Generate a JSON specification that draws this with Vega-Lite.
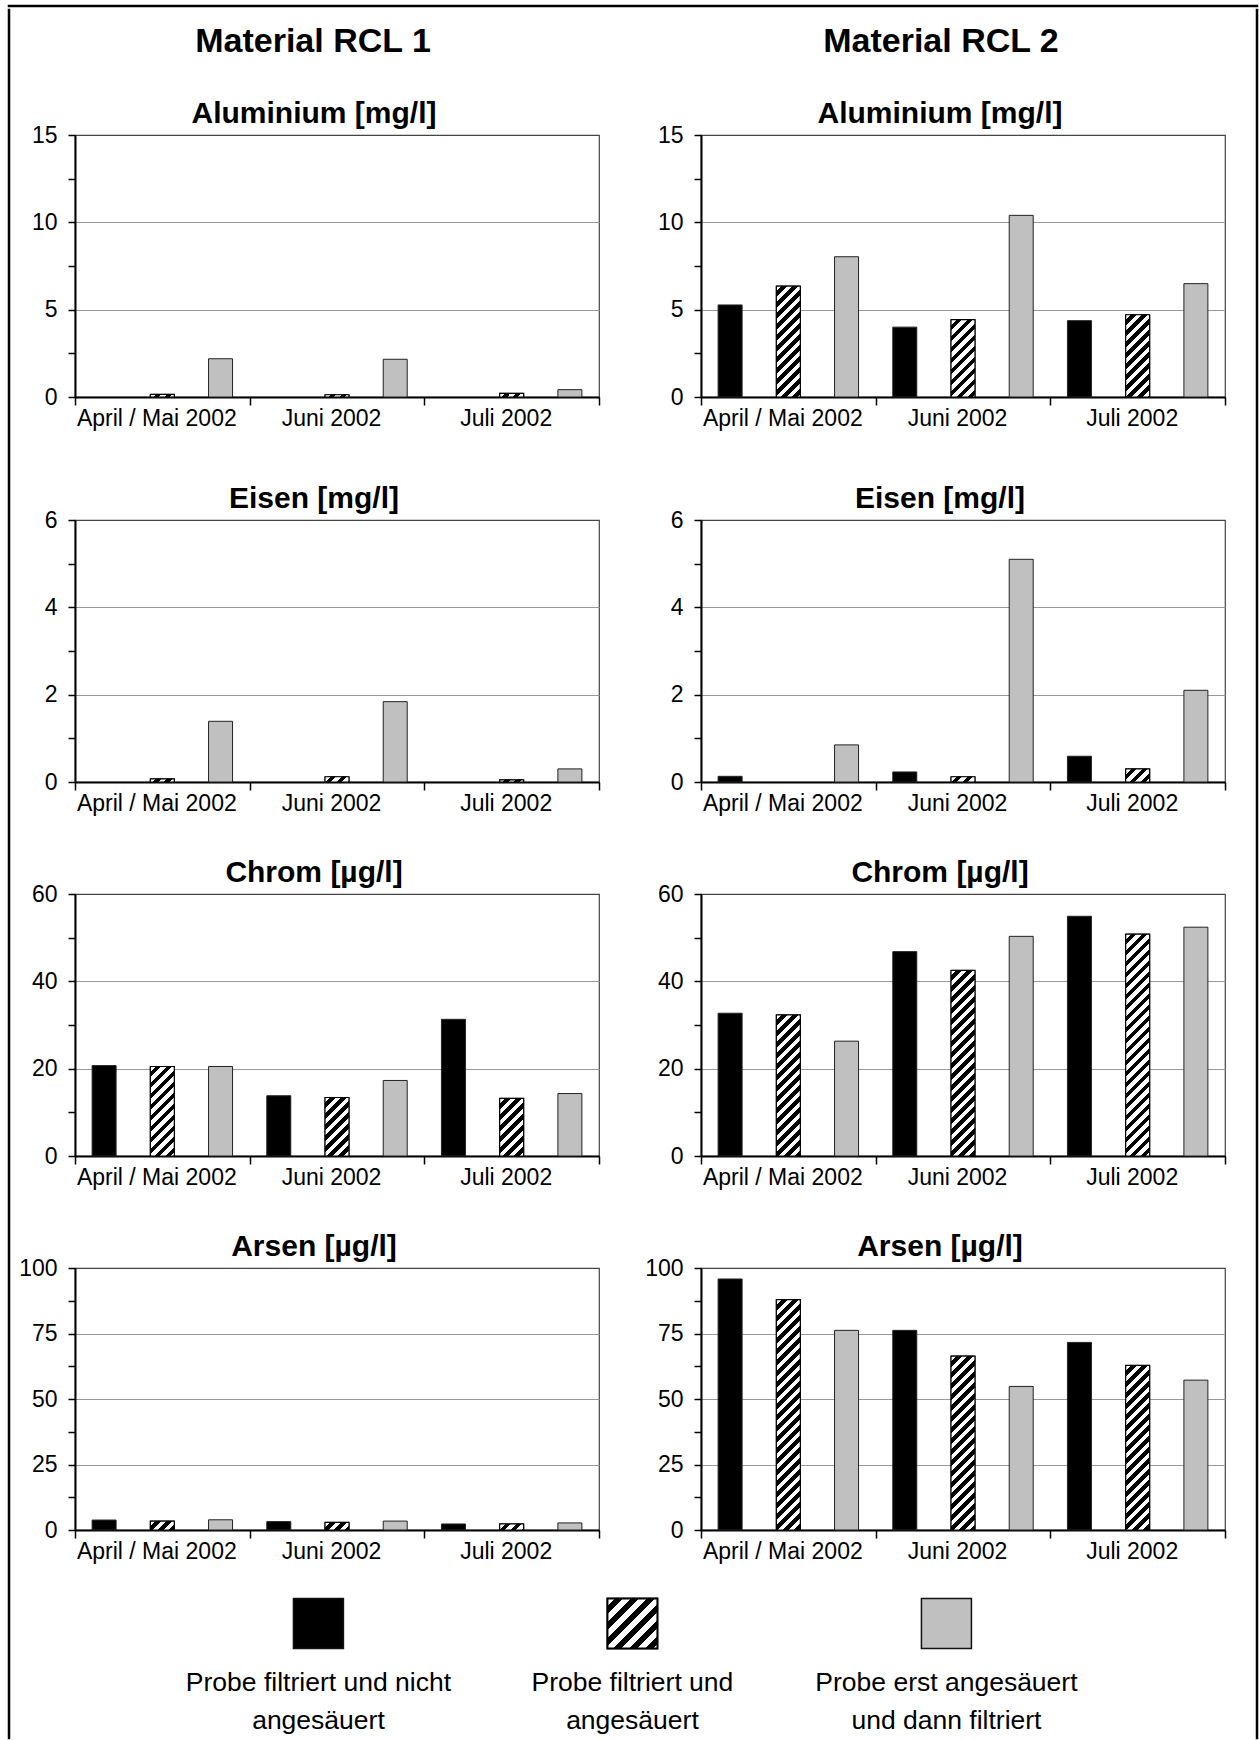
{
  "$schema": "https://vega.github.io/schema/vega-lite/v6.json",
  "background": "white",
  "padding": {"left": 7, "top": 4, "right": 0, "bottom": 0},
  "config": {
    "font": "Liberation Sans",
    "view": {"stroke": "#444444", "strokeWidth": 1.2},
    "axis": {
      "labelFont": "Liberation Sans",
      "labelFontSize": 23,
      "labelColor": "#000000",
      "domainColor": "#000000",
      "domainWidth": 2,
      "tickColor": "#000000",
      "tickWidth": 1.5,
      "gridColor": "#999999",
      "gridWidth": 1
    },
    "axisX": {"grid": false, "tickSize": 8, "labelPadding": 2, "labelAngle": 0, "tickBand": "extent", "labelOffset": -6},
    "axisY": {"tickSize": 7, "labelPadding": 11, "minExtent": 63, "maxExtent": 63},
    "title": {"font": "Liberation Sans", "fontSize": 30, "fontWeight": "bold", "color": "#000000", "anchor": "middle", "dx": -23, "offset": -5}
  },
  "params": [
    {
      "name": "schraffur",
      "value": [
        {"offset": 0, "color": "#fff"}, {"offset": 0.020833, "color": "#fff"}, {"offset": 0.020833, "color": "#000"}, {"offset": 0.041667, "color": "#000"},
        {"offset": 0.041667, "color": "#fff"}, {"offset": 0.0625, "color": "#fff"}, {"offset": 0.0625, "color": "#000"}, {"offset": 0.083333, "color": "#000"},
        {"offset": 0.083333, "color": "#fff"}, {"offset": 0.104167, "color": "#fff"}, {"offset": 0.104167, "color": "#000"}, {"offset": 0.125, "color": "#000"},
        {"offset": 0.125, "color": "#fff"}, {"offset": 0.145833, "color": "#fff"}, {"offset": 0.145833, "color": "#000"}, {"offset": 0.166667, "color": "#000"},
        {"offset": 0.166667, "color": "#fff"}, {"offset": 0.1875, "color": "#fff"}, {"offset": 0.1875, "color": "#000"}, {"offset": 0.208333, "color": "#000"},
        {"offset": 0.208333, "color": "#fff"}, {"offset": 0.229167, "color": "#fff"}, {"offset": 0.229167, "color": "#000"}, {"offset": 0.25, "color": "#000"},
        {"offset": 0.25, "color": "#fff"}, {"offset": 0.270833, "color": "#fff"}, {"offset": 0.270833, "color": "#000"}, {"offset": 0.291667, "color": "#000"},
        {"offset": 0.291667, "color": "#fff"}, {"offset": 0.3125, "color": "#fff"}, {"offset": 0.3125, "color": "#000"}, {"offset": 0.333333, "color": "#000"},
        {"offset": 0.333333, "color": "#fff"}, {"offset": 0.354167, "color": "#fff"}, {"offset": 0.354167, "color": "#000"}, {"offset": 0.375, "color": "#000"},
        {"offset": 0.375, "color": "#fff"}, {"offset": 0.395833, "color": "#fff"}, {"offset": 0.395833, "color": "#000"}, {"offset": 0.416667, "color": "#000"},
        {"offset": 0.416667, "color": "#fff"}, {"offset": 0.4375, "color": "#fff"}, {"offset": 0.4375, "color": "#000"}, {"offset": 0.458333, "color": "#000"},
        {"offset": 0.458333, "color": "#fff"}, {"offset": 0.479167, "color": "#fff"}, {"offset": 0.479167, "color": "#000"}, {"offset": 0.5, "color": "#000"},
        {"offset": 0.5, "color": "#fff"}, {"offset": 0.520833, "color": "#fff"}, {"offset": 0.520833, "color": "#000"}, {"offset": 0.541667, "color": "#000"},
        {"offset": 0.541667, "color": "#fff"}, {"offset": 0.5625, "color": "#fff"}, {"offset": 0.5625, "color": "#000"}, {"offset": 0.583333, "color": "#000"},
        {"offset": 0.583333, "color": "#fff"}, {"offset": 0.604167, "color": "#fff"}, {"offset": 0.604167, "color": "#000"}, {"offset": 0.625, "color": "#000"},
        {"offset": 0.625, "color": "#fff"}, {"offset": 0.645833, "color": "#fff"}, {"offset": 0.645833, "color": "#000"}, {"offset": 0.666667, "color": "#000"},
        {"offset": 0.666667, "color": "#fff"}, {"offset": 0.6875, "color": "#fff"}, {"offset": 0.6875, "color": "#000"}, {"offset": 0.708333, "color": "#000"},
        {"offset": 0.708333, "color": "#fff"}, {"offset": 0.729167, "color": "#fff"}, {"offset": 0.729167, "color": "#000"}, {"offset": 0.75, "color": "#000"},
        {"offset": 0.75, "color": "#fff"}, {"offset": 0.770833, "color": "#fff"}, {"offset": 0.770833, "color": "#000"}, {"offset": 0.791667, "color": "#000"},
        {"offset": 0.791667, "color": "#fff"}, {"offset": 0.8125, "color": "#fff"}, {"offset": 0.8125, "color": "#000"}, {"offset": 0.833333, "color": "#000"},
        {"offset": 0.833333, "color": "#fff"}, {"offset": 0.854167, "color": "#fff"}, {"offset": 0.854167, "color": "#000"}, {"offset": 0.875, "color": "#000"},
        {"offset": 0.875, "color": "#fff"}, {"offset": 0.895833, "color": "#fff"}, {"offset": 0.895833, "color": "#000"}, {"offset": 0.916667, "color": "#000"},
        {"offset": 0.916667, "color": "#fff"}, {"offset": 0.9375, "color": "#fff"}, {"offset": 0.9375, "color": "#000"}, {"offset": 0.958333, "color": "#000"},
        {"offset": 0.958333, "color": "#fff"}, {"offset": 0.979167, "color": "#fff"}, {"offset": 0.979167, "color": "#000"}, {"offset": 1, "color": "#000"}
      ]
    }
  ],
  "datasets": {
    "werte": [
      {"material": "RCL 1", "stoff": "Aluminium", "monat": "April / Mai 2002", "probe": "B", "wert": 0.15},
      {"material": "RCL 1", "stoff": "Aluminium", "monat": "Juni 2002", "probe": "B", "wert": 0.13},
      {"material": "RCL 1", "stoff": "Aluminium", "monat": "Juli 2002", "probe": "B", "wert": 0.21},
      {"material": "RCL 1", "stoff": "Aluminium", "monat": "April / Mai 2002", "probe": "C", "wert": 2.19},
      {"material": "RCL 1", "stoff": "Aluminium", "monat": "Juni 2002", "probe": "C", "wert": 2.16},
      {"material": "RCL 1", "stoff": "Aluminium", "monat": "Juli 2002", "probe": "C", "wert": 0.42},
      {"material": "RCL 2", "stoff": "Aluminium", "monat": "April / Mai 2002", "probe": "A", "wert": 5.27},
      {"material": "RCL 2", "stoff": "Aluminium", "monat": "Juni 2002", "probe": "A", "wert": 4.0},
      {"material": "RCL 2", "stoff": "Aluminium", "monat": "Juli 2002", "probe": "A", "wert": 4.37},
      {"material": "RCL 2", "stoff": "Aluminium", "monat": "April / Mai 2002", "probe": "B", "wert": 6.35},
      {"material": "RCL 2", "stoff": "Aluminium", "monat": "Juni 2002", "probe": "B", "wert": 4.43},
      {"material": "RCL 2", "stoff": "Aluminium", "monat": "Juli 2002", "probe": "B", "wert": 4.71},
      {"material": "RCL 2", "stoff": "Aluminium", "monat": "April / Mai 2002", "probe": "C", "wert": 8.03},
      {"material": "RCL 2", "stoff": "Aluminium", "monat": "Juni 2002", "probe": "C", "wert": 10.4},
      {"material": "RCL 2", "stoff": "Aluminium", "monat": "Juli 2002", "probe": "C", "wert": 6.49},
      {"material": "RCL 1", "stoff": "Eisen", "monat": "April / Mai 2002", "probe": "B", "wert": 0.07},
      {"material": "RCL 1", "stoff": "Eisen", "monat": "Juni 2002", "probe": "B", "wert": 0.12},
      {"material": "RCL 1", "stoff": "Eisen", "monat": "Juli 2002", "probe": "B", "wert": 0.05},
      {"material": "RCL 1", "stoff": "Eisen", "monat": "April / Mai 2002", "probe": "C", "wert": 1.39},
      {"material": "RCL 1", "stoff": "Eisen", "monat": "Juni 2002", "probe": "C", "wert": 1.84},
      {"material": "RCL 1", "stoff": "Eisen", "monat": "Juli 2002", "probe": "C", "wert": 0.3},
      {"material": "RCL 2", "stoff": "Eisen", "monat": "April / Mai 2002", "probe": "A", "wert": 0.13},
      {"material": "RCL 2", "stoff": "Eisen", "monat": "Juni 2002", "probe": "A", "wert": 0.23},
      {"material": "RCL 2", "stoff": "Eisen", "monat": "Juli 2002", "probe": "A", "wert": 0.59},
      {"material": "RCL 2", "stoff": "Eisen", "monat": "Juni 2002", "probe": "B", "wert": 0.12},
      {"material": "RCL 2", "stoff": "Eisen", "monat": "Juli 2002", "probe": "B", "wert": 0.3},
      {"material": "RCL 2", "stoff": "Eisen", "monat": "April / Mai 2002", "probe": "C", "wert": 0.85},
      {"material": "RCL 2", "stoff": "Eisen", "monat": "Juni 2002", "probe": "C", "wert": 5.1},
      {"material": "RCL 2", "stoff": "Eisen", "monat": "Juli 2002", "probe": "C", "wert": 2.1},
      {"material": "RCL 1", "stoff": "Chrom", "monat": "April / Mai 2002", "probe": "A", "wert": 20.7},
      {"material": "RCL 1", "stoff": "Chrom", "monat": "Juni 2002", "probe": "A", "wert": 13.8},
      {"material": "RCL 1", "stoff": "Chrom", "monat": "Juli 2002", "probe": "A", "wert": 31.3},
      {"material": "RCL 1", "stoff": "Chrom", "monat": "April / Mai 2002", "probe": "B", "wert": 20.5},
      {"material": "RCL 1", "stoff": "Chrom", "monat": "Juni 2002", "probe": "B", "wert": 13.4},
      {"material": "RCL 1", "stoff": "Chrom", "monat": "Juli 2002", "probe": "B", "wert": 13.2},
      {"material": "RCL 1", "stoff": "Chrom", "monat": "April / Mai 2002", "probe": "C", "wert": 20.5},
      {"material": "RCL 1", "stoff": "Chrom", "monat": "Juni 2002", "probe": "C", "wert": 17.3},
      {"material": "RCL 1", "stoff": "Chrom", "monat": "Juli 2002", "probe": "C", "wert": 14.3},
      {"material": "RCL 2", "stoff": "Chrom", "monat": "April / Mai 2002", "probe": "A", "wert": 32.7},
      {"material": "RCL 2", "stoff": "Chrom", "monat": "Juni 2002", "probe": "A", "wert": 46.8},
      {"material": "RCL 2", "stoff": "Chrom", "monat": "Juli 2002", "probe": "A", "wert": 54.9},
      {"material": "RCL 2", "stoff": "Chrom", "monat": "April / Mai 2002", "probe": "B", "wert": 32.3},
      {"material": "RCL 2", "stoff": "Chrom", "monat": "Juni 2002", "probe": "B", "wert": 42.5},
      {"material": "RCL 2", "stoff": "Chrom", "monat": "Juli 2002", "probe": "B", "wert": 50.8},
      {"material": "RCL 2", "stoff": "Chrom", "monat": "April / Mai 2002", "probe": "C", "wert": 26.3},
      {"material": "RCL 2", "stoff": "Chrom", "monat": "Juni 2002", "probe": "C", "wert": 50.3},
      {"material": "RCL 2", "stoff": "Chrom", "monat": "Juli 2002", "probe": "C", "wert": 52.4},
      {"material": "RCL 1", "stoff": "Arsen", "monat": "April / Mai 2002", "probe": "A", "wert": 3.8},
      {"material": "RCL 1", "stoff": "Arsen", "monat": "Juni 2002", "probe": "A", "wert": 3.2},
      {"material": "RCL 1", "stoff": "Arsen", "monat": "Juli 2002", "probe": "A", "wert": 2.3},
      {"material": "RCL 1", "stoff": "Arsen", "monat": "April / Mai 2002", "probe": "B", "wert": 3.4},
      {"material": "RCL 1", "stoff": "Arsen", "monat": "Juni 2002", "probe": "B", "wert": 2.9},
      {"material": "RCL 1", "stoff": "Arsen", "monat": "Juli 2002", "probe": "B", "wert": 2.3},
      {"material": "RCL 1", "stoff": "Arsen", "monat": "April / Mai 2002", "probe": "C", "wert": 3.9},
      {"material": "RCL 1", "stoff": "Arsen", "monat": "Juni 2002", "probe": "C", "wert": 3.4},
      {"material": "RCL 1", "stoff": "Arsen", "monat": "Juli 2002", "probe": "C", "wert": 2.7},
      {"material": "RCL 2", "stoff": "Arsen", "monat": "April / Mai 2002", "probe": "A", "wert": 95.8},
      {"material": "RCL 2", "stoff": "Arsen", "monat": "Juni 2002", "probe": "A", "wert": 76.2},
      {"material": "RCL 2", "stoff": "Arsen", "monat": "Juli 2002", "probe": "A", "wert": 71.6},
      {"material": "RCL 2", "stoff": "Arsen", "monat": "April / Mai 2002", "probe": "B", "wert": 87.9},
      {"material": "RCL 2", "stoff": "Arsen", "monat": "Juni 2002", "probe": "B", "wert": 66.4},
      {"material": "RCL 2", "stoff": "Arsen", "monat": "Juli 2002", "probe": "B", "wert": 62.8},
      {"material": "RCL 2", "stoff": "Arsen", "monat": "April / Mai 2002", "probe": "C", "wert": 76.2},
      {"material": "RCL 2", "stoff": "Arsen", "monat": "Juni 2002", "probe": "C", "wert": 54.8},
      {"material": "RCL 2", "stoff": "Arsen", "monat": "Juli 2002", "probe": "C", "wert": 57.2}
    ]
  },
  "spacing": 0,
  "vconcat": [
    {
      "width": 1248, "height": 0.01,
      "data": {"values": [{"rahmen": "oben"}]},
      "mark": {"type": "text", "text": "", "fontSize": 0},
      "view": {"stroke": "#000000", "strokeWidth": 2.5}
    },
    {
      "spacing": 0,
      "hconcat": [
        {
          "width": 0.01, "height": 1728,
          "data": {"values": [{"rahmen": "links"}]},
          "mark": {"type": "text", "text": "", "fontSize": 0},
          "view": {"stroke": "#000000", "strokeWidth": 2.5}
        },
        {
          "spacing": 30,
          "vconcat": [
            {
              "width": 1104, "height": 57.5,
              "view": {"stroke": null},
              "data": {"values": [{"spalte": "Material RCL 1"}, {"spalte": "Material RCL 2"}]},
              "mark": {"type": "text", "fontSize": 34, "fontWeight": "bold", "baseline": "alphabetic", "dy": 13.5, "color": "#000000"},
              "encoding": {
                "x": {"field": "spalte", "type": "nominal", "axis": null, "scale": {"type": "point", "padding": 0.379}},
                "text": {"field": "spalte", "type": "nominal"}
              }
            },
            {
              "spacing": 36,
              "data": {"name": "werte"},
              "hconcat": [
                {
                  "spacing": 52,
                  "vconcat": [
                    {
                      "width": 524, "height": 262,
                      "title": {"text": "Aluminium [mg/l]"},
                      "transform": [{"filter": "datum.stoff === 'Aluminium' && datum.material === 'RCL 1'"}],
                      "encoding": {
                        "x": {"field": "monat", "type": "nominal", "title": null, "scale": {"domain": ["April / Mai 2002", "Juni 2002", "Juli 2002"], "paddingInner": 0, "paddingOuter": 0}},
                        "xOffset": {"field": "probe", "type": "nominal", "scale": {"domain": ["A", "B", "C"], "paddingInner": 0.588, "paddingOuter": 0.294}},
                        "y": {"field": "wert", "type": "quantitative", "title": null, "scale": {"domain": [0, 15], "nice": false},
                          "axis": {"values": [0, 2.5, 5, 7.5, 10, 12.5, 15], "labelExpr": "datum.value % 5 === 0 ? datum.label : ''",
                            "gridOpacity": {"condition": {"test": "datum.value % 5 === 0 && datum.value > 0 && datum.value < 15", "value": 1}, "value": 0}}}
                      },
                      "layer": [
                        {"mark": {"type": "bar", "stroke": "#222222", "strokeWidth": 1}, "encoding": {"fill": {"field": "probe", "type": "nominal", "scale": {"domain": ["A", "B", "C"], "range": ["#000000", "#ffffff", "#c0c0c0"]}, "legend": null}}},
                        {"transform": [{"filter": "datum.probe === 'B'"}], "mark": {"type": "bar", "stroke": "#000000", "strokeWidth": 1.2, "fill": {"expr": "{'gradient': 'linear', 'x1': 0, 'y1': 0, 'x2': 6336 / (576 + pow(datum.wert * 262 / 15, 2)), 'y2': 264 * (datum.wert * 262 / 15) / (576 + pow(datum.wert * 262 / 15, 2)), 'stops': schraffur}"}}}
                      ]
                    },
                    {
                      "spacing": 41,
                      "vconcat": [
                        {
                          "width": 524, "height": 262,
                          "title": {"text": "Eisen [mg/l]"},
                          "transform": [{"filter": "datum.stoff === 'Eisen' && datum.material === 'RCL 1'"}],
                          "encoding": {
                            "x": {"field": "monat", "type": "nominal", "title": null, "scale": {"domain": ["April / Mai 2002", "Juni 2002", "Juli 2002"], "paddingInner": 0, "paddingOuter": 0}},
                            "xOffset": {"field": "probe", "type": "nominal", "scale": {"domain": ["A", "B", "C"], "paddingInner": 0.588, "paddingOuter": 0.294}},
                            "y": {"field": "wert", "type": "quantitative", "title": null, "scale": {"domain": [0, 6], "nice": false},
                              "axis": {"values": [0, 1, 2, 3, 4, 5, 6], "labelExpr": "datum.value % 2 === 0 ? datum.label : ''",
                                "gridOpacity": {"condition": {"test": "datum.value % 2 === 0 && datum.value > 0 && datum.value < 6", "value": 1}, "value": 0}}}
                          },
                          "layer": [
                            {"mark": {"type": "bar", "stroke": "#222222", "strokeWidth": 1}, "encoding": {"fill": {"field": "probe", "type": "nominal", "scale": {"domain": ["A", "B", "C"], "range": ["#000000", "#ffffff", "#c0c0c0"]}, "legend": null}}},
                            {"transform": [{"filter": "datum.probe === 'B'"}], "mark": {"type": "bar", "stroke": "#000000", "strokeWidth": 1.2, "fill": {"expr": "{'gradient': 'linear', 'x1': 0, 'y1': 0, 'x2': 6336 / (576 + pow(datum.wert * 262 / 6, 2)), 'y2': 264 * (datum.wert * 262 / 6) / (576 + pow(datum.wert * 262 / 6, 2)), 'stops': schraffur}"}}}
                          ]
                        },
                        {
                          "width": 524, "height": 262,
                          "title": {"text": "Chrom [µg/l]"},
                          "transform": [{"filter": "datum.stoff === 'Chrom' && datum.material === 'RCL 1'"}],
                          "encoding": {
                            "x": {"field": "monat", "type": "nominal", "title": null, "scale": {"domain": ["April / Mai 2002", "Juni 2002", "Juli 2002"], "paddingInner": 0, "paddingOuter": 0}},
                            "xOffset": {"field": "probe", "type": "nominal", "scale": {"domain": ["A", "B", "C"], "paddingInner": 0.588, "paddingOuter": 0.294}},
                            "y": {"field": "wert", "type": "quantitative", "title": null, "scale": {"domain": [0, 60], "nice": false},
                              "axis": {"values": [0, 10, 20, 30, 40, 50, 60], "labelExpr": "datum.value % 20 === 0 ? datum.label : ''",
                                "gridOpacity": {"condition": {"test": "datum.value % 20 === 0 && datum.value > 0 && datum.value < 60", "value": 1}, "value": 0}}}
                          },
                          "layer": [
                            {"mark": {"type": "bar", "stroke": "#222222", "strokeWidth": 1}, "encoding": {"fill": {"field": "probe", "type": "nominal", "scale": {"domain": ["A", "B", "C"], "range": ["#000000", "#ffffff", "#c0c0c0"]}, "legend": null}}},
                            {"transform": [{"filter": "datum.probe === 'B'"}], "mark": {"type": "bar", "stroke": "#000000", "strokeWidth": 1.2, "fill": {"expr": "{'gradient': 'linear', 'x1': 0, 'y1': 0, 'x2': 6336 / (576 + pow(datum.wert * 262 / 60, 2)), 'y2': 264 * (datum.wert * 262 / 60) / (576 + pow(datum.wert * 262 / 60, 2)), 'stops': schraffur}"}}}
                          ]
                        },
                        {
                          "width": 524, "height": 262,
                          "title": {"text": "Arsen [µg/l]"},
                          "transform": [{"filter": "datum.stoff === 'Arsen' && datum.material === 'RCL 1'"}],
                          "encoding": {
                            "x": {"field": "monat", "type": "nominal", "title": null, "scale": {"domain": ["April / Mai 2002", "Juni 2002", "Juli 2002"], "paddingInner": 0, "paddingOuter": 0}},
                            "xOffset": {"field": "probe", "type": "nominal", "scale": {"domain": ["A", "B", "C"], "paddingInner": 0.588, "paddingOuter": 0.294}},
                            "y": {"field": "wert", "type": "quantitative", "title": null, "scale": {"domain": [0, 100], "nice": false},
                              "axis": {"values": [0, 12.5, 25, 37.5, 50, 62.5, 75, 87.5, 100], "labelExpr": "datum.value % 25 === 0 ? datum.label : ''",
                                "gridOpacity": {"condition": {"test": "datum.value % 25 === 0 && datum.value > 0 && datum.value < 100", "value": 1}, "value": 0}}}
                          },
                          "layer": [
                            {"mark": {"type": "bar", "stroke": "#222222", "strokeWidth": 1}, "encoding": {"fill": {"field": "probe", "type": "nominal", "scale": {"domain": ["A", "B", "C"], "range": ["#000000", "#ffffff", "#c0c0c0"]}, "legend": null}}},
                            {"transform": [{"filter": "datum.probe === 'B'"}], "mark": {"type": "bar", "stroke": "#000000", "strokeWidth": 1.2, "fill": {"expr": "{'gradient': 'linear', 'x1': 0, 'y1': 0, 'x2': 6336 / (576 + pow(datum.wert * 262 / 100, 2)), 'y2': 264 * (datum.wert * 262 / 100) / (576 + pow(datum.wert * 262 / 100, 2)), 'stops': schraffur}"}}}
                          ]
                        }
                      ]
                    }
                  ]
                },
                {
                  "spacing": 52,
                  "vconcat": [
                    {
                      "width": 524, "height": 262,
                      "title": {"text": "Aluminium [mg/l]"},
                      "transform": [{"filter": "datum.stoff === 'Aluminium' && datum.material === 'RCL 2'"}],
                      "encoding": {
                        "x": {"field": "monat", "type": "nominal", "title": null, "scale": {"domain": ["April / Mai 2002", "Juni 2002", "Juli 2002"], "paddingInner": 0, "paddingOuter": 0}},
                        "xOffset": {"field": "probe", "type": "nominal", "scale": {"domain": ["A", "B", "C"], "paddingInner": 0.588, "paddingOuter": 0.294}},
                        "y": {"field": "wert", "type": "quantitative", "title": null, "scale": {"domain": [0, 15], "nice": false},
                          "axis": {"values": [0, 2.5, 5, 7.5, 10, 12.5, 15], "labelExpr": "datum.value % 5 === 0 ? datum.label : ''",
                            "gridOpacity": {"condition": {"test": "datum.value % 5 === 0 && datum.value > 0 && datum.value < 15", "value": 1}, "value": 0}}}
                      },
                      "layer": [
                        {"mark": {"type": "bar", "stroke": "#222222", "strokeWidth": 1}, "encoding": {"fill": {"field": "probe", "type": "nominal", "scale": {"domain": ["A", "B", "C"], "range": ["#000000", "#ffffff", "#c0c0c0"]}, "legend": null}}},
                        {"transform": [{"filter": "datum.probe === 'B'"}], "mark": {"type": "bar", "stroke": "#000000", "strokeWidth": 1.2, "fill": {"expr": "{'gradient': 'linear', 'x1': 0, 'y1': 0, 'x2': 6336 / (576 + pow(datum.wert * 262 / 15, 2)), 'y2': 264 * (datum.wert * 262 / 15) / (576 + pow(datum.wert * 262 / 15, 2)), 'stops': schraffur}"}}}
                      ]
                    },
                    {
                      "spacing": 41,
                      "vconcat": [
                        {
                          "width": 524, "height": 262,
                          "title": {"text": "Eisen [mg/l]"},
                          "transform": [{"filter": "datum.stoff === 'Eisen' && datum.material === 'RCL 2'"}],
                          "encoding": {
                            "x": {"field": "monat", "type": "nominal", "title": null, "scale": {"domain": ["April / Mai 2002", "Juni 2002", "Juli 2002"], "paddingInner": 0, "paddingOuter": 0}},
                            "xOffset": {"field": "probe", "type": "nominal", "scale": {"domain": ["A", "B", "C"], "paddingInner": 0.588, "paddingOuter": 0.294}},
                            "y": {"field": "wert", "type": "quantitative", "title": null, "scale": {"domain": [0, 6], "nice": false},
                              "axis": {"values": [0, 1, 2, 3, 4, 5, 6], "labelExpr": "datum.value % 2 === 0 ? datum.label : ''",
                                "gridOpacity": {"condition": {"test": "datum.value % 2 === 0 && datum.value > 0 && datum.value < 6", "value": 1}, "value": 0}}}
                          },
                          "layer": [
                            {"mark": {"type": "bar", "stroke": "#222222", "strokeWidth": 1}, "encoding": {"fill": {"field": "probe", "type": "nominal", "scale": {"domain": ["A", "B", "C"], "range": ["#000000", "#ffffff", "#c0c0c0"]}, "legend": null}}},
                            {"transform": [{"filter": "datum.probe === 'B'"}], "mark": {"type": "bar", "stroke": "#000000", "strokeWidth": 1.2, "fill": {"expr": "{'gradient': 'linear', 'x1': 0, 'y1': 0, 'x2': 6336 / (576 + pow(datum.wert * 262 / 6, 2)), 'y2': 264 * (datum.wert * 262 / 6) / (576 + pow(datum.wert * 262 / 6, 2)), 'stops': schraffur}"}}}
                          ]
                        },
                        {
                          "width": 524, "height": 262,
                          "title": {"text": "Chrom [µg/l]"},
                          "transform": [{"filter": "datum.stoff === 'Chrom' && datum.material === 'RCL 2'"}],
                          "encoding": {
                            "x": {"field": "monat", "type": "nominal", "title": null, "scale": {"domain": ["April / Mai 2002", "Juni 2002", "Juli 2002"], "paddingInner": 0, "paddingOuter": 0}},
                            "xOffset": {"field": "probe", "type": "nominal", "scale": {"domain": ["A", "B", "C"], "paddingInner": 0.588, "paddingOuter": 0.294}},
                            "y": {"field": "wert", "type": "quantitative", "title": null, "scale": {"domain": [0, 60], "nice": false},
                              "axis": {"values": [0, 10, 20, 30, 40, 50, 60], "labelExpr": "datum.value % 20 === 0 ? datum.label : ''",
                                "gridOpacity": {"condition": {"test": "datum.value % 20 === 0 && datum.value > 0 && datum.value < 60", "value": 1}, "value": 0}}}
                          },
                          "layer": [
                            {"mark": {"type": "bar", "stroke": "#222222", "strokeWidth": 1}, "encoding": {"fill": {"field": "probe", "type": "nominal", "scale": {"domain": ["A", "B", "C"], "range": ["#000000", "#ffffff", "#c0c0c0"]}, "legend": null}}},
                            {"transform": [{"filter": "datum.probe === 'B'"}], "mark": {"type": "bar", "stroke": "#000000", "strokeWidth": 1.2, "fill": {"expr": "{'gradient': 'linear', 'x1': 0, 'y1': 0, 'x2': 6336 / (576 + pow(datum.wert * 262 / 60, 2)), 'y2': 264 * (datum.wert * 262 / 60) / (576 + pow(datum.wert * 262 / 60, 2)), 'stops': schraffur}"}}}
                          ]
                        },
                        {
                          "width": 524, "height": 262,
                          "title": {"text": "Arsen [µg/l]"},
                          "transform": [{"filter": "datum.stoff === 'Arsen' && datum.material === 'RCL 2'"}],
                          "encoding": {
                            "x": {"field": "monat", "type": "nominal", "title": null, "scale": {"domain": ["April / Mai 2002", "Juni 2002", "Juli 2002"], "paddingInner": 0, "paddingOuter": 0}},
                            "xOffset": {"field": "probe", "type": "nominal", "scale": {"domain": ["A", "B", "C"], "paddingInner": 0.588, "paddingOuter": 0.294}},
                            "y": {"field": "wert", "type": "quantitative", "title": null, "scale": {"domain": [0, 100], "nice": false},
                              "axis": {"values": [0, 12.5, 25, 37.5, 50, 62.5, 75, 87.5, 100], "labelExpr": "datum.value % 25 === 0 ? datum.label : ''",
                                "gridOpacity": {"condition": {"test": "datum.value % 25 === 0 && datum.value > 0 && datum.value < 100", "value": 1}, "value": 0}}}
                          },
                          "layer": [
                            {"mark": {"type": "bar", "stroke": "#222222", "strokeWidth": 1}, "encoding": {"fill": {"field": "probe", "type": "nominal", "scale": {"domain": ["A", "B", "C"], "range": ["#000000", "#ffffff", "#c0c0c0"]}, "legend": null}}},
                            {"transform": [{"filter": "datum.probe === 'B'"}], "mark": {"type": "bar", "stroke": "#000000", "strokeWidth": 1.2, "fill": {"expr": "{'gradient': 'linear', 'x1': 0, 'y1': 0, 'x2': 6336 / (576 + pow(datum.wert * 262 / 100, 2)), 'y2': 264 * (datum.wert * 262 / 100) / (576 + pow(datum.wert * 262 / 100, 2)), 'stops': schraffur}"}}}
                          ]
                        }
                      ]
                    }
                  ]
                }
              ]
            },
            {
              "width": 1180, "height": 51,
              "view": {"stroke": null},
              "data": {"values": [
                {"probe": "A", "beschreibung": "Probe filtriert und nicht\nangesäuert"},
                {"probe": "B", "beschreibung": "Probe filtriert und\nangesäuert"},
                {"probe": "C", "beschreibung": "Probe erst angesäuert\nund dann filtriert"}
              ]},
              "encoding": {
                "x": {"field": "probe", "type": "nominal", "axis": null, "scale": {"type": "point", "domain": ["A", "B", "C"], "padding": 0.879, "align": 0.441}}
              },
              "layer": [
                {"mark": {"type": "square", "size": 2500, "opacity": 1, "stroke": "#111111", "strokeWidth": 1.5},
                 "encoding": {"fill": {"field": "probe", "type": "nominal", "scale": {"domain": ["A", "B", "C"], "range": ["#000000", "#ffffff", "#c0c0c0"]}, "legend": null}}},
                {"transform": [{"filter": "datum.probe === 'B'"}],
                 "mark": {"type": "square", "size": 2500, "opacity": 1, "stroke": "#000000", "strokeWidth": 2, "fill": {"expr": "{'gradient': 'linear', 'x1': 0, 'y1': 0, 'x2': 3.84, 'y2': 3.84, 'stops': schraffur}"}}},
                {"mark": {"type": "text", "lineBreak": "\n", "fontSize": 26.5, "baseline": "top", "dy": 46, "lineHeight": 38, "color": "#000000"},
                 "encoding": {"text": {"field": "beschreibung", "type": "nominal"}}}
              ]
            }
          ]
        },
        {
          "width": 0.01, "height": 1728,
          "data": {"values": [{"rahmen": "rechts"}]},
          "mark": {"type": "text", "text": "", "fontSize": 0},
          "view": {"stroke": "#000000", "strokeWidth": 2.5}
        }
      ]
    },
    {
      "width": 1248, "height": 0.01,
      "data": {"values": [{"rahmen": "unten"}]},
      "mark": {"type": "text", "text": "", "fontSize": 0},
      "view": {"stroke": "#000000", "strokeWidth": 2.5}
    }
  ]
}
